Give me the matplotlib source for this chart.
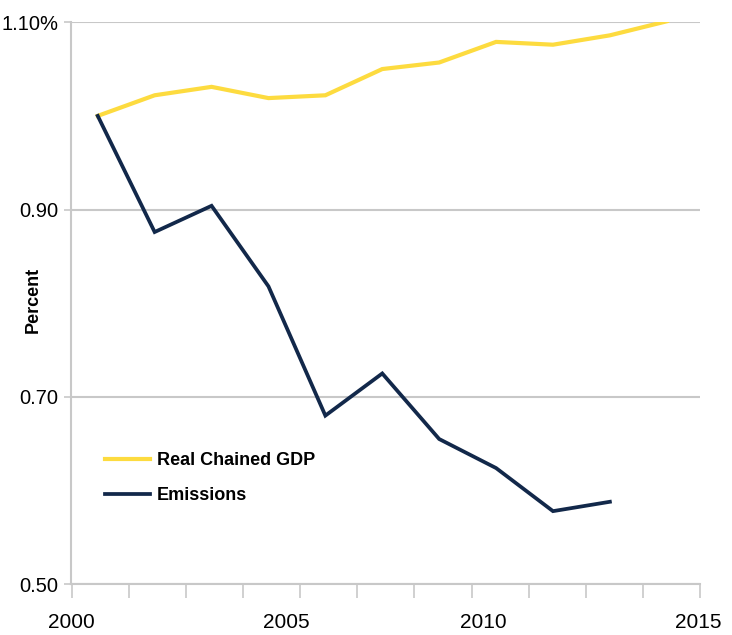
import matplotlib
matplotlib.use('Agg')
import matplotlib.pyplot as plt
import numpy as np

# Index values (first year = 1.00)
gdp = [1.000, 1.022, 1.031, 1.019, 1.022, 1.050, 1.057, 1.079, 1.076, 1.086, 1.101]
emissions = [1.000, 0.876, 0.904, 0.818, 0.680, 0.725, 0.655, 0.624, 0.578, 0.588]

year_labels = ['2000', '2005', '2010', '2015']
year_label_pos = [-0.47, 3.31, 6.78, 10.56]
y_ticks = [0.50, 0.70, 0.90, 1.10]
y_tick_labels = ['0.50', '0.70', '0.90', '1.10%']

plt.rcParams['font.family'] = ['Liberation Sans', 'DejaVu Sans']

fig = plt.figure(figsize=(7.32, 6.35), dpi=100)
ax = fig.add_axes([0.097, 0.080, 0.859, 0.885])

grid_col = '#c8c8c8'
ax.plot(np.arange(len(gdp)), gdp, color='#fddb3f', lw=3.0,
        solid_joinstyle='miter', label='Real Chained GDP', zorder=3)
ax.plot(np.arange(len(emissions)), emissions, color='#12284a', lw=2.7,
        solid_joinstyle='miter', label='Emissions', zorder=4)

ax.set_ylim(0.50, 1.10)
ax.set_xlim(-0.45, 10.58)
ax.set_yticks(y_ticks)
ax.set_yticklabels(y_tick_labels)
ax.yaxis.grid(True, color=grid_col, lw=1.5)
ax.set_axisbelow(True)
ax.tick_params(axis='y', length=5, width=1.2, color=grid_col, labelsize=14.5, pad=4)

# category boundaries as tick marks, year labels as separate ticks
ax.set_xticks(np.linspace(-0.45, 10.58, 12), minor=True)
ax.set_xticks(year_label_pos)
ax.set_xticklabels(year_labels)
ax.tick_params(axis='x', which='minor', length=10, width=1.2, color=grid_col)
ax.tick_params(axis='x', which='major', length=0, labelsize=15, pad=21)

for side in ['top', 'right']:
    ax.spines[side].set_visible(False)
for side in ['left', 'bottom']:
    ax.spines[side].set_color(grid_col)
    ax.spines[side].set_linewidth(1.5)

ax.set_ylabel('Percent', fontsize=13, fontweight='bold')
ax.yaxis.set_label_coords(-0.047, 0.505)

ax.legend(loc='upper left', bbox_to_anchor=(0.143, 0.288), bbox_transform=fig.transFigure,
          frameon=False, handlelength=2.5, handletextpad=0.4,
          labelspacing=1.0, borderpad=0, borderaxespad=0,
          prop={'weight': 'bold', 'size': 13})

fig.savefig('out.png', dpi=100)
